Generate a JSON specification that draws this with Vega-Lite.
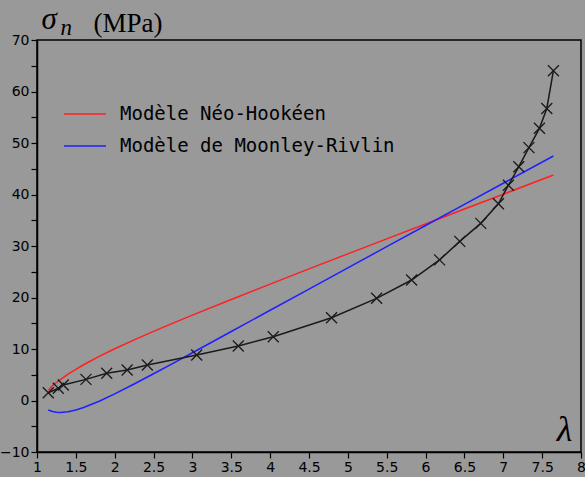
{
  "$schema": "https://vega.github.io/schema/vega-lite/v6.json",
  "width": 544,
  "height": 412,
  "autosize": {"type": "none"},
  "padding": {"left": 37, "top": 40, "right": 4, "bottom": 25},
  "background": "#999999",
  "config": {
    "view": {"stroke": "#000000", "strokeWidth": 1.5, "fill": "#999999"},
    "axis": {"domainColor": "#000000", "domainWidth": 1.5, "tickColor": "#000000", "tickWidth": 1.2, "tickSize": 6, "labelColor": "#000000", "labelFont": "DejaVu Sans", "labelFontSize": 14, "grid": false, "titleColor": "#000000"}
  },
  "datasets": {
    "models": [
      {"lam": 1.145, "sigma": 2.0, "model": "Modèle Néo-Hookéen"},
      {"lam": 1.2, "sigma": 2.9, "model": "Modèle Néo-Hookéen"},
      {"lam": 1.25, "sigma": 3.5, "model": "Modèle Néo-Hookéen"},
      {"lam": 1.3, "sigma": 4.07, "model": "Modèle Néo-Hookéen"},
      {"lam": 1.4, "sigma": 5.11, "model": "Modèle Néo-Hookéen"},
      {"lam": 1.5, "sigma": 6.06, "model": "Modèle Néo-Hookéen"},
      {"lam": 1.6, "sigma": 6.94, "model": "Modèle Néo-Hookéen"},
      {"lam": 1.8, "sigma": 8.56, "model": "Modèle Néo-Hookéen"},
      {"lam": 2.0, "sigma": 10.05, "model": "Modèle Néo-Hookéen"},
      {"lam": 2.25, "sigma": 11.78, "model": "Modèle Néo-Hookéen"},
      {"lam": 2.5, "sigma": 13.43, "model": "Modèle Néo-Hookéen"},
      {"lam": 2.75, "sigma": 15.03, "model": "Modèle Néo-Hookéen"},
      {"lam": 3.0, "sigma": 16.58, "model": "Modèle Néo-Hookéen"},
      {"lam": 3.5, "sigma": 19.62, "model": "Modèle Néo-Hookéen"},
      {"lam": 4.0, "sigma": 22.6, "model": "Modèle Néo-Hookéen"},
      {"lam": 4.5, "sigma": 25.55, "model": "Modèle Néo-Hookéen"},
      {"lam": 5.0, "sigma": 28.47, "model": "Modèle Néo-Hookéen"},
      {"lam": 5.5, "sigma": 31.38, "model": "Modèle Néo-Hookéen"},
      {"lam": 6.0, "sigma": 34.28, "model": "Modèle Néo-Hookéen"},
      {"lam": 6.5, "sigma": 37.17, "model": "Modèle Néo-Hookéen"},
      {"lam": 7.0, "sigma": 40.06, "model": "Modèle Néo-Hookéen"},
      {"lam": 7.645, "sigma": 43.78, "model": "Modèle Néo-Hookéen"},
      {"lam": 1.145, "sigma": -1.84, "model": "Modèle de Moonley-Rivlin"},
      {"lam": 1.2, "sigma": -2.14, "model": "Modèle de Moonley-Rivlin"},
      {"lam": 1.25, "sigma": -2.28, "model": "Modèle de Moonley-Rivlin"},
      {"lam": 1.3, "sigma": -2.32, "model": "Modèle de Moonley-Rivlin"},
      {"lam": 1.4, "sigma": -2.19, "model": "Modèle de Moonley-Rivlin"},
      {"lam": 1.5, "sigma": -1.85, "model": "Modèle de Moonley-Rivlin"},
      {"lam": 1.6, "sigma": -1.37, "model": "Modèle de Moonley-Rivlin"},
      {"lam": 1.8, "sigma": -0.14, "model": "Modèle de Moonley-Rivlin"},
      {"lam": 2.0, "sigma": 1.28, "model": "Modèle de Moonley-Rivlin"},
      {"lam": 2.25, "sigma": 3.2, "model": "Modèle de Moonley-Rivlin"},
      {"lam": 2.5, "sigma": 5.19, "model": "Modèle de Moonley-Rivlin"},
      {"lam": 2.75, "sigma": 7.22, "model": "Modèle de Moonley-Rivlin"},
      {"lam": 3.0, "sigma": 9.27, "model": "Modèle de Moonley-Rivlin"},
      {"lam": 3.5, "sigma": 13.4, "model": "Modèle de Moonley-Rivlin"},
      {"lam": 4.0, "sigma": 17.52, "model": "Modèle de Moonley-Rivlin"},
      {"lam": 4.5, "sigma": 21.64, "model": "Modèle de Moonley-Rivlin"},
      {"lam": 5.0, "sigma": 25.76, "model": "Modèle de Moonley-Rivlin"},
      {"lam": 5.5, "sigma": 29.87, "model": "Modèle de Moonley-Rivlin"},
      {"lam": 6.0, "sigma": 33.98, "model": "Modèle de Moonley-Rivlin"},
      {"lam": 6.5, "sigma": 38.09, "model": "Modèle de Moonley-Rivlin"},
      {"lam": 7.0, "sigma": 42.19, "model": "Modèle de Moonley-Rivlin"},
      {"lam": 7.645, "sigma": 47.48, "model": "Modèle de Moonley-Rivlin"}
    ],
    "exp": [
      {"lam": 1.145, "sigma": 1.51},
      {"lam": 1.274, "sigma": 2.37},
      {"lam": 1.338, "sigma": 3.0},
      {"lam": 1.63, "sigma": 4.1},
      {"lam": 1.897, "sigma": 5.28},
      {"lam": 2.16, "sigma": 5.92},
      {"lam": 2.42, "sigma": 6.89},
      {"lam": 3.055, "sigma": 8.83},
      {"lam": 3.59, "sigma": 10.58},
      {"lam": 4.04, "sigma": 12.39},
      {"lam": 4.79, "sigma": 16.08},
      {"lam": 5.37, "sigma": 19.84},
      {"lam": 5.82, "sigma": 23.4},
      {"lam": 6.18, "sigma": 27.3},
      {"lam": 6.44, "sigma": 30.9},
      {"lam": 6.71, "sigma": 34.4},
      {"lam": 6.937, "sigma": 38.2},
      {"lam": 7.066, "sigma": 41.8},
      {"lam": 7.2, "sigma": 45.4},
      {"lam": 7.33, "sigma": 49.1},
      {"lam": 7.465, "sigma": 52.85},
      {"lam": 7.56, "sigma": 56.7},
      {"lam": 7.645, "sigma": 64.04}
    ]
  },
  "encoding": {
    "x": {
      "field": "lam",
      "type": "quantitative",
      "scale": {"domain": [1, 8], "nice": false},
      "axis": {
        "values": [1, 1.5, 2, 2.5, 3, 3.5, 4, 4.5, 5, 5.5, 6, 6.5, 7, 7.5, 8],
        "format": "~g",
        "labelPadding": 2,
        "labelFlush": false,
        "title": "λ",
        "titleFont": "Liberation Serif",
        "titleFontStyle": "italic",
        "titleFontWeight": "normal",
        "titleFontSize": 36,
        "titleX": 527,
        "titleY": -12,
        "titleAlign": "center",
        "titleBaseline": "alphabetic"
      }
    }
  },
  "layer": [
    {
      "data": {"name": "models"},
      "mark": {"type": "line", "strokeWidth": 1.5},
      "encoding": {
        "y": {
          "field": "sigma",
          "type": "quantitative",
          "scale": {"domain": [-10, 70], "nice": false},
          "axis": {
            "orient": "left",
            "values": [-10, -5, 0, 5, 10, 15, 20, 25, 30, 35, 40, 45, 50, 55, 60, 65, 70],
            "labelExpr": "datum.value % 10 == 0 ? datum.label : ''",
            "labelPadding": 2,
            "labelFlush": false,
            "title": "σ",
            "titleFont": "Liberation Serif",
            "titleFontStyle": "italic",
            "titleFontWeight": "normal",
            "titleFontSize": 31,
            "titleAngle": 0,
            "titleX": 4,
            "titleY": -12,
            "titleAlign": "left",
            "titleBaseline": "alphabetic"
          }
        },
        "color": {
          "field": "model",
          "type": "nominal",
          "scale": {"domain": ["Modèle Néo-Hookéen", "Modèle de Moonley-Rivlin"], "range": ["#ff2020", "#2020ff"]},
          "legend": {
            "orient": "none",
            "legendX": 26,
            "legendY": 52,
            "title": null,
            "padding": 0,
            "symbolType": "stroke",
            "symbolSize": 1764,
            "symbolStrokeWidth": 1.5,
            "labelFont": "DejaVu Sans Mono",
            "labelFontSize": 19,
            "labelColor": "#000000",
            "labelOffset": 13,
            "labelLimit": 500,
            "rowPadding": -4
          }
        }
      }
    },
    {
      "data": {"name": "exp"},
      "mark": {"type": "line", "color": "#1a1a1a", "strokeWidth": 1.5},
      "encoding": {
        "y": {
          "field": "sigma",
          "type": "quantitative",
          "scale": {"domain": [-10, 70], "nice": false},
          "axis": {
            "orient": "left",
            "domain": false,
            "ticks": false,
            "labels": false,
            "title": "n",
            "titleFont": "Liberation Serif",
            "titleFontStyle": "italic",
            "titleFontWeight": "normal",
            "titleFontSize": 23,
            "titleAngle": 0,
            "titleX": 23,
            "titleY": -6,
            "titleAlign": "left",
            "titleBaseline": "alphabetic"
          }
        }
      }
    },
    {
      "data": {"name": "exp"},
      "mark": {"type": "point", "shape": "M-1,-1L1,1M-1,1L1,-1", "size": 121, "filled": false, "stroke": "#1a1a1a", "strokeWidth": 1.3, "opacity": 1},
      "encoding": {
        "y": {
          "field": "sigma",
          "type": "quantitative",
          "scale": {"domain": [-10, 70], "nice": false},
          "axis": {
            "orient": "left",
            "domain": false,
            "ticks": false,
            "labels": false,
            "title": "(MPa)",
            "titleFont": "Liberation Serif",
            "titleFontStyle": "normal",
            "titleFontWeight": "normal",
            "titleFontSize": 27,
            "titleAngle": 0,
            "titleX": 56,
            "titleY": -9,
            "titleAlign": "left",
            "titleBaseline": "alphabetic"
          }
        }
      }
    }
  ],
  "resolve": {"axis": {"y": "independent"}}
}
